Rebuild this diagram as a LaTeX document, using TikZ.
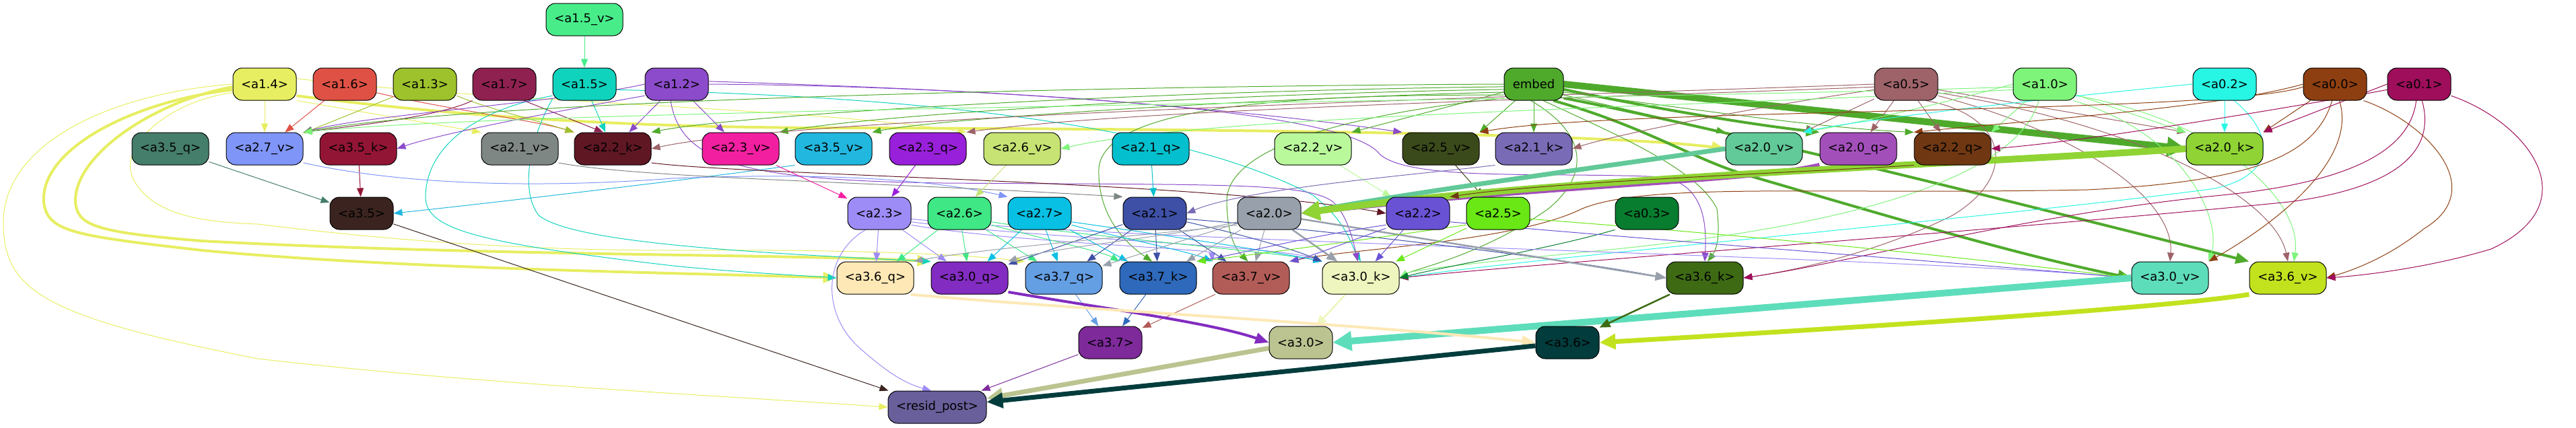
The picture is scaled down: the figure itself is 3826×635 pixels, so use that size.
\documentclass[tikz,border=0pt]{standalone}
\usepackage{fontspec}
\setmainfont{DejaVu Sans}
\usetikzlibrary{arrows.meta,backgrounds}
\definecolor{c15v}{HTML}{48ED8A}\definecolor{c14}{HTML}{E7EE61}\definecolor{c16}{HTML}{DF5145}
\definecolor{c13}{HTML}{9DC22B}\definecolor{c17}{HTML}{8F2151}\definecolor{c15}{HTML}{10D3BE}
\definecolor{c12}{HTML}{8B4BCA}\definecolor{cemb}{HTML}{4FAA2C}\definecolor{c05}{HTML}{9D6369}
\definecolor{c10}{HTML}{7EF47A}\definecolor{c02}{HTML}{28F6E4}\definecolor{c00}{HTML}{8E3F11}
\definecolor{c01}{HTML}{9E0E5B}\definecolor{c35q}{HTML}{457E6B}\definecolor{c27v}{HTML}{7F95F7}
\definecolor{c35k}{HTML}{931535}\definecolor{c21v}{HTML}{7F8784}\definecolor{c22k}{HTML}{5F1724}
\definecolor{c23v}{HTML}{F31FA1}\definecolor{c35v}{HTML}{22B7DF}\definecolor{c23q}{HTML}{9920DA}
\definecolor{c26v}{HTML}{C6E373}\definecolor{c21q}{HTML}{04BFCD}\definecolor{c22v}{HTML}{BAF89C}
\definecolor{c25v}{HTML}{3B4A1A}\definecolor{c21k}{HTML}{7A6BB6}\definecolor{c20v}{HTML}{62C998}
\definecolor{c20q}{HTML}{A34FBA}\definecolor{c22q}{HTML}{6F3812}\definecolor{c20k}{HTML}{8FD434}
\definecolor{c35}{HTML}{3B2420}\definecolor{c23}{HTML}{9D8CF6}\definecolor{c26}{HTML}{3FE785}
\definecolor{c27}{HTML}{08BFE4}\definecolor{c21}{HTML}{3E50A6}\definecolor{c20}{HTML}{98A0AB}
\definecolor{c22}{HTML}{6A52D5}\definecolor{c25}{HTML}{69E815}\definecolor{c03}{HTML}{087C2F}
\definecolor{c36q}{HTML}{FDE8B6}\definecolor{c30q}{HTML}{822CC1}\definecolor{c37q}{HTML}{649EE3}
\definecolor{c37k}{HTML}{2E69BB}\definecolor{c37v}{HTML}{B25C58}\definecolor{c30k}{HTML}{EFF5BE}
\definecolor{c36k}{HTML}{3E6A14}\definecolor{c30v}{HTML}{5EDDBB}\definecolor{c36v}{HTML}{C2E21E}
\definecolor{c37}{HTML}{7E2A9B}\definecolor{c30}{HTML}{BBC490}\definecolor{c36}{HTML}{023C3C}
\definecolor{crp}{HTML}{695F9B}
\tikzset{
 nd/.style={draw=black, line width=1pt, rounded corners=14pt, minimum height=48pt, inner sep=0pt, font=\fontsize{18}{20}\selectfont, text=black},
 ns/.style={nd, minimum width=94pt},
 nl/.style={nd, minimum width=114pt},
 ed/.style={line width=1pt, -{Triangle[length=13pt,width=10pt]}},
 ed2/.style={line width=2.5pt, -{Triangle[length=16pt,width=13pt]}},
 ed3/.style={line width=4pt, -{Triangle[length=20pt,width=16pt]}},
 ed4/.style={line width=7pt, -{Triangle[length=24pt,width=22pt]}},
 ed5/.style={line width=10pt, -{Triangle[length=28pt,width=28pt]}}
}
\begin{document}
\begin{tikzpicture}[x=1pt,y=-1pt]
\useasboundingbox (0,0) rectangle (3826,635);
% row 0
\node[nl,fill=c15v] (a15v) at (868,29) {<a1.5\_v>};
% row 1
\node[ns,fill=c14] (a14) at (393,125) {<a1.4>};
\node[ns,fill=c16] (a16) at (512,125) {<a1.6>};
\node[ns,fill=c13] (a13) at (631,125) {<a1.3>};
\node[ns,fill=c17] (a17) at (749,125) {<a1.7>};
\node[ns,fill=c15] (a15) at (868,125) {<a1.5>};
\node[ns,fill=c12] (a12) at (1005,125) {<a1.2>};
\node[nd,minimum width=88pt,fill=cemb] (embed) at (2278,125) {embed};
\node[ns,fill=c05] (a05) at (2831,125) {<a0.5>};
\node[ns,fill=c10] (a10) at (3037,125) {<a1.0>};
\node[ns,fill=c02] (a02) at (3304,125) {<a0.2>};
\node[ns,fill=c00] (a00) at (3468,125) {<a0.0>};
\node[ns,fill=c01] (a01) at (3593,125) {<a0.1>};
% row 2
\node[nl,fill=c35q] (a35q) at (253,221) {<a3.5\_q>};
\node[nl,fill=c27v] (a27v) at (393,221) {<a2.7\_v>};
\node[nl,fill=c35k] (a35k) at (532,221) {<a3.5\_k>};
\node[nl,fill=c21v] (a21v) at (772,221) {<a2.1\_v>};
\node[nl,fill=c22k] (a22k) at (910,221) {<a2.2\_k>};
\node[nl,fill=c23v] (a23v) at (1100,221) {<a2.3\_v>};
\node[nl,fill=c35v] (a35v) at (1238,221) {<a3.5\_v>};
\node[nl,fill=c23q] (a23q) at (1378,221) {<a2.3\_q>};
\node[nl,fill=c26v] (a26v) at (1518,221) {<a2.6\_v>};
\node[nl,fill=c21q] (a21q) at (1709,221) {<a2.1\_q>};
\node[nl,fill=c22v] (a22v) at (1950,221) {<a2.2\_v>};
\node[nl,fill=c25v] (a25v) at (2140,221) {<a2.5\_v>};
\node[nl,fill=c21k] (a21k) at (2278,221) {<a2.1\_k>};
\node[nl,fill=c20v] (a20v) at (2620,221) {<a2.0\_v>};
\node[nl,fill=c20q] (a20q) at (2760,221) {<a2.0\_q>};
\node[nl,fill=c22q] (a22q) at (2900,221) {<a2.2\_q>};
\node[nl,fill=c20k] (a20k) at (3304,221) {<a2.0\_k>};
% row 3
\node[ns,fill=c35] (a35) at (537,317) {<a3.5>};
\node[ns,fill=c23] (a23) at (1306,317) {<a2.3>};
\node[ns,fill=c26] (a26) at (1425,317) {<a2.6>};
\node[ns,fill=c27] (a27) at (1544,317) {<a2.7>};
\node[ns,fill=c21] (a21) at (1715,317) {<a2.1>};
\node[ns,fill=c20] (a20) at (1885,317) {<a2.0>};
\node[ns,fill=c22] (a22) at (2106,317) {<a2.2>};
\node[ns,fill=c25] (a25) at (2225,317) {<a2.5>};
\node[ns,fill=c03] (a03) at (2446,317) {<a0.3>};
% row 4
\node[nl,fill=c36q] (a36q) at (1300,413) {<a3.6\_q>};
\node[nl,fill=c30q] (a30q) at (1440,413) {<a3.0\_q>};
\node[nl,fill=c37q] (a37q) at (1580,413) {<a3.7\_q>};
\node[nl,fill=c37k] (a37k) at (1720,413) {<a3.7\_k>};
\node[nl,fill=c37v] (a37v) at (1858,413) {<a3.7\_v>};
\node[nl,fill=c30k] (a30k) at (2021,413) {<a3.0\_k>};
\node[nl,fill=c36k] (a36k) at (2532,413) {<a3.6\_k>};
\node[nl,fill=c30v] (a30v) at (3223,413) {<a3.0\_v>};
\node[nl,fill=c36v] (a36v) at (3398,413) {<a3.6\_v>};
% row 5
\node[ns,fill=c37] (a37) at (1649,509) {<a3.7>};
\node[ns,fill=c30] (a30) at (1932,509) {<a3.0>};
\node[ns,fill=c36] (a36) at (2328,509) {<a3.6>};
% row 6
\node[nd,minimum width=146pt,fill=crp] (rp) at (1392,605) {<resid\_post>};

\begin{pgfonlayer}{background}
% a1.5_v
\draw[ed,c15v] (a15v) -- (a15);
% a1.4
\draw[ed,c14] (a14) -- (a27v);
\draw[ed,c14] (a14.south east) -- (a21v.north west);
\draw[ed3,c14] (a14.-20) .. controls (700,175) and (950,190) .. (1250,190) .. controls (1900,192) and (2400,200) .. (a20v.west);
\draw[ed,c14] (a14.10) .. controls (700,150) and (1200,160) .. (a23q.north east);
\draw[ed3,c14] (a14.190) .. controls (200,150) and (60,220) .. (65,300) .. controls (70,345) and (110,350) .. (300,372) .. controls (600,400) and (1000,405) .. (a36q.west);
\draw[ed3,c14] (a14.185) .. controls (230,150) and (110,230) .. (112,300) .. controls (115,335) and (140,345) .. (300,358) .. controls (700,380) and (1200,378) .. (a30q.north west);
\draw[ed,c14] (a14.west) .. controls (150,140) and (5,220) .. (5,330) .. controls (5,430) and (60,470) .. (383,533) .. controls (700,570) and (1100,590) .. (rp.west);
\draw[ed,c14] (a14.195) .. controls (250,150) and (170,220) .. (200,270) .. controls (230,320) and (300,330) .. (383,333) .. controls (600,360) and (800,372) .. (1000,372) .. controls (1300,370) and (1450,380) .. (a37q.north west);
% a1.6, a1.3, a1.7
\draw[ed,c16] (a16) -- (a27v);
\draw[ed,c16] (a16.-15) .. controls (650,160) and (800,180) .. (a22k.north west);
\draw[ed,c13] (a13) -- (a27v);
\draw[ed,c13] (a13.-20) .. controls (720,160) and (800,180) .. (a22k.north west);
\draw[ed,c17] (a17.south west) .. controls (650,175) and (500,190) .. (a27v.north east);
\draw[ed,c17] (a17.-40) -- (a22k.120);
% a1.5
\draw[ed,c15] (a15) -- (a22k);
\draw[ed,c15] (a15.200) .. controls (720,160) and (635,210) .. (632,290) .. controls (630,340) and (700,360) .. (1000,395) .. controls (1100,405) and (1200,410) .. (a36q.west);
\draw[ed,c15] (a15.205) .. controls (790,200) and (770,280) .. (800,320) .. controls (850,360) and (1100,375) .. (a30q.north west);
\draw[ed,c15] (a15.-10) .. controls (1200,140) and (1700,160) .. (1950,290) .. controls (2000,330) and (2005,360) .. (a30k.north);
% a1.2
\draw[ed,c12] (a12.west) .. controls (850,150) and (550,170) .. (a27v.north east);
\draw[ed,c12] (a12.200) .. controls (800,170) and (650,200) .. (a35k.east);
\draw[ed,c12] (a12) -- (a22k);
\draw[ed,c12] (a12) -- (a23v);
\draw[ed,c12] (a12.east) .. controls (1500,128) and (1900,170) .. (a25v.north west);
\draw[ed,c12] (a12.5) .. controls (1500,135) and (2000,160) .. (2050,230) .. controls (2100,270) and (2300,255) .. (2470,263) .. controls (2530,275) and (2535,330) .. (a36k.north);
\draw[ed,c12] (a12.250) .. controls (1010,240) and (1100,268) .. (1400,272) .. controls (1800,275) and (1940,270) .. (1980,300) .. controls (2000,320) and (2008,350) .. (a30k.100);
% embed
\draw[ed,cemb] (embed.180) .. controls (1600,128) and (700,150) .. (a27v.north east);
\draw[ed,cemb] (embed.185) .. controls (1700,135) and (1100,170) .. (a22k.north east);
\draw[ed,cemb] (embed.190) .. controls (1800,140) and (1300,170) .. (a23v.north east);
\draw[ed,cemb] (embed.195) .. controls (1900,145) and (1400,175) .. (a35v.north east);
\draw[ed,cemb] (embed) -- (a22v.north east);
\draw[ed,cemb] (embed) -- (a25v.north east);
\draw[ed,cemb] (embed) -- (a21k);
\draw[ed,cemb] (embed.-20) -- (a20v.north west);
\draw[ed3,cemb] (embed.-10) .. controls (2450,160) and (2600,185) .. (a20q.north west);
\draw[ed,cemb] (embed.-15) .. controls (2500,160) and (2700,190) .. (a22q.north west);
\draw[ed5,cemb] (embed.east) -- (a20k.west);
\draw[ed3,cemb] (embed.-25) .. controls (2550,190) and (2950,290) .. (a36v.north west);
\draw[ed3,cemb] (embed.-40) .. controls (2450,190) and (2520,240) .. (2601,262) .. controls (2800,320) and (3000,380) .. (a30v.west);
\draw[ed,cemb] (embed.200) .. controls (1900,140) and (1640,160) .. (1632,250) .. controls (1630,320) and (1670,360) .. (a37k.110);
\draw[ed,cemb] (embed.205) .. controls (2000,170) and (1820,220) .. (1822,300) .. controls (1823,350) and (1835,370) .. (a37v.100);
\draw[ed,cemb] (embed.-100) .. controls (2360,200) and (2360,260) .. (2300,310) .. controls (2200,380) and (2100,400) .. (a30k.east);
\draw[ed,cemb] (embed.-60) .. controls (2400,200) and (2520,250) .. (2550,310) .. controls (2555,350) and (2550,370) .. (a36k.80);
% a0.5
\draw[ed,c05] (a05.west) .. controls (2400,140) and (1200,170) .. (a22k.east);
\draw[ed,c05] (a05.185) .. controls (2400,145) and (1700,160) .. (a23q.north east);
\draw[ed,c05] (a05.190) .. controls (2600,160) and (2400,200) .. (a21k.east);
\draw[ed,c05] (a05) -- (a20v.north east);
\draw[ed,c05] (a05) -- (a20q);
\draw[ed,c05] (a05) -- (a22q);
\draw[ed,c05] (a05.-10) -- (a20k.north west);
\draw[ed,c05] (a05.-20) .. controls (3100,200) and (3230,300) .. (a30v.north);
\draw[ed,c05] (a05.-15) .. controls (3200,190) and (3380,300) .. (a36v.north);
\draw[ed,c05] (a05.-40) .. controls (2980,170) and (3000,260) .. (2900,320) .. controls (2800,370) and (2680,400) .. (a36k.east);
% a1.0
\draw[ed,c10] (a10) -- (a22q.north east);
\draw[ed,c10] (a10.west) .. controls (2900,150) and (2750,185) .. (a20v.north east);
\draw[ed,c10] (a10) -- (a20k.north west);
\draw[ed,c10] (a10.190) .. controls (2500,160) and (1800,170) .. (a26v.east);
\draw[ed,c10] (a10.185) .. controls (2400,150) and (800,160) .. (a27v.north east);
\draw[ed,c10] (a10.-30) .. controls (3250,200) and (3300,330) .. (a30v.north east);
\draw[ed,c10] (a10.-20) .. controls (3300,180) and (3420,300) .. (a36v.70);
\draw[ed,c10] (a10.-110) .. controls (3000,250) and (2800,330) .. (2400,370) .. controls (2200,390) and (2100,400) .. (a30k.east);
% a0.2
\draw[ed,c02] (a02) -- (a20k);
\draw[ed,c02] (a02.west) .. controls (3000,150) and (2750,180) .. (a20v.north east);
\draw[ed,c02] (a02.-60) .. controls (3380,200) and (3380,260) .. (3290,280) .. controls (3000,320) and (2300,380) .. (a30k.east);
% a0.0
\draw[ed,c00] (a00) -- (a20k.north east);
\draw[ed,c00] (a00.west) .. controls (3300,160) and (3000,180) .. (a22q.north west);
\draw[ed,c00] (a00.185) .. controls (3300,170) and (2400,160) .. (a25v.north east);
\draw[ed,c00] (a00.-100) .. controls (3440,230) and (3350,270) .. (3100,282) .. controls (2700,290) and (2450,270) .. (2350,310) .. controls (2250,360) and (2000,370) .. (a37v.north east);
\draw[ed,c00] (a00.-75) .. controls (3500,230) and (3400,320) .. (a30v.north east);
\draw[ed,c00] (a00.-30) .. controls (3600,180) and (3700,280) .. (3600,340) .. controls (3550,380) and (3500,400) .. (a36v.east);
% a0.1
\draw[ed,c01] (a01.west) -- (a20k.north east);
\draw[ed,c01] (a01.190) .. controls (3400,160) and (3100,210) .. (a22q.east);
\draw[ed,c01] (a01.-100) .. controls (3580,220) and (3500,270) .. (3300,290) .. controls (3000,320) and (2750,390) .. (a36k.east);
\draw[ed,c01] (a01.-80) .. controls (3620,230) and (3550,280) .. (3400,300) .. controls (3000,340) and (2300,390) .. (a30k.east);
\draw[ed,c01] (a01.-20) .. controls (3750,180) and (3850,300) .. (3700,370) .. controls (3600,400) and (3500,410) .. (a36v.east);
% a0.3
\draw[ed,c03] (a03.south west) .. controls (2300,370) and (2150,395) .. (a30k.east);
% row 2 -> row 3
\draw[ed,c35q] (a35q) -- (a35);
\draw[ed,c35k] (a35k) -- (a35);
\draw[ed,c35v] (a35v.south west) .. controls (1000,270) and (700,305) .. (a35.east);
\draw[ed,c27v] (a27v.-20) .. controls (600,275) and (800,280) .. (1000,265) .. controls (1250,255) and (1400,270) .. (a27.north west);
\draw[ed,c21v] (a21v.-20) .. controls (950,265) and (1300,270) .. (a21.north west);
\draw[ed,c22k] (a22k.-20) .. controls (1100,260) and (1800,270) .. (a22.west);
\draw[ed,c23v] (a23v) -- (a23);
\draw[ed,c23q] (a23q) -- (a23);
\draw[ed,c26v] (a26v) -- (a26);
\draw[ed,c21q] (a21q) -- (a21);
\draw[ed,c22v] (a22v) -- (a22);
\draw[ed,c25v] (a25v) -- (a25);
\draw[ed,c21k] (a21k.south west) .. controls (2100,260) and (1850,280) .. (a21.east);
\draw[ed4,c20v] (a20v.west) .. controls (2400,245) and (2100,285) .. (a20.east);
\draw[ed4,c20q] (a20q.south west) .. controls (2600,270) and (2300,275) .. (a20.east);
\draw[ed5,c20k] (a20k.west) .. controls (2900,245) and (2300,265) .. (a20.east);
\draw[ed,c22q] (a22q.south west) .. controls (2700,255) and (2300,270) .. (a22.north east);
% row 3 -> row 4
\draw[ed,c23] (a23) -- (a36q);
\draw[ed,c23] (a23) -- (a30q);
\draw[ed,c23] (a23.-130) .. controls (1220,380) and (1220,470) .. (1280,520) .. controls (1320,555) and (1345,570) .. (rp.110);
\draw[ed,c23] (a23.-20) .. controls (1500,360) and (1800,370) .. (a37v.north west);
\draw[ed,c23] (a23.-15) .. controls (1550,355) and (1900,365) .. (a30k.north west);
\draw[ed,c23] (a23.-10) .. controls (1700,360) and (2800,380) .. (a30v.west);
\draw[ed,c26] (a26) -- (a36q);
\draw[ed,c26] (a26) -- (a30q);
\draw[ed,c26] (a26) -- (a37q);
\draw[ed,c26] (a26.-20) .. controls (1550,355) and (1640,375) .. (a37k.north west);
\draw[ed,c26] (a26.-15) .. controls (1600,350) and (1900,375) .. (a30k.north west);
\draw[ed,c27] (a27) -- (a30q);
\draw[ed,c27] (a27) -- (a37q);
\draw[ed,c27] (a27) -- (a37k);
\draw[ed,c27] (a27.-20) .. controls (1650,350) and (1770,375) .. (a37v.north west);
\draw[ed,c27] (a27.-15) .. controls (1700,345) and (1900,375) .. (a30k.north west);
\draw[ed,c21] (a21) -- (a30q);
\draw[ed,c21] (a21) -- (a37q);
\draw[ed,c21] (a21) -- (a37k);
\draw[ed,c21] (a21) -- (a37v);
\draw[ed,c21] (a21.-15) .. controls (1850,350) and (1920,370) .. (a30k.north west);
\draw[ed,c21] (a21.-10) .. controls (1950,340) and (2300,380) .. (a36k.west);
\draw[ed,c20] (a20.200) .. controls (1700,350) and (1450,370) .. (a36q.north east);
\draw[ed,c20] (a20.195) .. controls (1750,350) and (1550,370) .. (a30q.north east);
\draw[ed,c20] (a20) -- (a37q);
\draw[ed,c20] (a20) -- (a37k);
\draw[ed,c20] (a20) -- (a37v);
\draw[ed2,c20] (a20) -- (a30k);
\draw[ed2,c20] (a20.-10) -- (a36k.west);
\draw[ed,c22] (a22.200) .. controls (1950,350) and (1850,375) .. (a37k.north east);
\draw[ed,c22] (a22.205) .. controls (2000,360) and (1950,380) .. (a37v.north east);
\draw[ed,c22] (a22) -- (a30k);
\draw[ed,c22] (a22.-15) .. controls (2500,360) and (2900,390) .. (a30v.west);
\draw[ed,c25] (a25) -- (a30k);
\draw[ed,c25] (a25.200) .. controls (2000,360) and (1850,380) .. (a37k.north east);
\draw[ed,c25] (a25.-10) .. controls (2600,350) and (2900,380) .. (a30v.west);
% row 4 -> row 5
\draw[ed,c37q] (a37q) -- (a37);
\draw[ed,c37k] (a37k) -- (a37);
\draw[ed,c37v] (a37v) -- (a37);
\draw[ed3,c30q] (a30q.-20) .. controls (1650,460) and (1800,480) .. (a30.west);
\draw[ed2,c30k] (a30k) -- (a30);
\draw[ed5,c30v] (a30v.west) -- (a30.east);
\draw[ed3,c36q] (a36q.-25) .. controls (1600,460) and (2000,480) .. (a36.west);
\draw[ed2,c36k] (a36k) -- (a36);
\draw[ed4,c36v] (a36v.south west) .. controls (3200,460) and (2700,490) .. (a36.east);
% row 5 -> resid_post
\draw[ed,c35] (a35) -- (rp);
\draw[ed,c37] (a37) -- (rp);
\draw[ed4,c30] (a30) -- (rp);
\draw[ed4,c36] (a36) -- (rp);
\end{pgfonlayer}
\end{tikzpicture}
\end{document}
